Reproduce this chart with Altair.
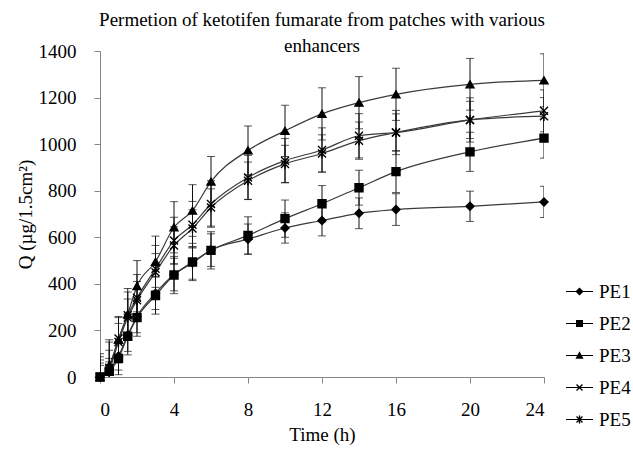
import altair as alt
import pandas as pd

times = [0, 0.5, 1, 1.5, 2, 3, 4, 5, 6, 8, 10, 12, 14, 16, 20, 24]
series_names = ["PE1", "PE2", "PE3", "PE4", "PE5"]

pe1 = [0, 30, 90, 180, 260, 360, 440, 490, 545, 592, 640, 672, 703, 719, 733, 752]
pe1_err = [60, 50, 60, 70, 70, 70, 70, 70, 70, 65, 65, 66, 66, 68, 65, 67]
pe2 = [0, 25, 80, 175, 255, 350, 438, 494, 544, 608, 680, 744, 813, 882, 967, 1026]
pe2_err = [50, 40, 70, 80, 80, 80, 80, 80, 80, 80, 80, 78, 75, 90, 84, 86]
pe3 = [0, 50, 160, 270, 390, 495, 643, 715, 839, 973, 1057, 1130, 1178, 1214, 1257, 1274]
pe3_err = [100, 110, 100, 110, 110, 110, 110, 111, 108, 105, 110, 112, 112, 112, 111, 114]
pe4 = [0, 40, 165, 265, 340, 465, 586, 654, 743, 857, 929, 975, 1036, 1050, 1104, 1143]
pe4_err = [87, 110, 90, 100, 100, 100, 100, 100, 100, 95, 95, 95, 95, 95, 95, 90]
pe5 = [0, 35, 150, 255, 330, 450, 565, 638, 728, 843, 915, 960, 1015, 1050, 1104, 1120]
pe5_err = [73, 80, 80, 80, 80, 80, 80, 80, 80, 80, 80, 80, 80, 80, 80, 80]

x_ticks = [0, 4, 8, 12, 16, 20, 24]
y_ticks = [0, 200, 400, 600, 800, 1000, 1200, 1400]

rows = []
for name, vals, errs in zip(series_names, [pe1, pe2, pe3, pe4, pe5],
                            [pe1_err, pe2_err, pe3_err, pe4_err, pe5_err]):
    for t, v, e in zip(times, vals, errs):
        rows.append({"t": t, "series": name, "q": v, "lo": v - e, "hi": v + e})
df = pd.DataFrame(rows)

FONT = "Liberation Serif"
AX = "#868686"

# plot markers
plot_shapes = [
    "diamond",
    "square",
    "triangle-up",
    "M-1,-1L1,1M-1,1L1,-1",
    "M-1,-1L1,1M-1,1L1,-1M0,-1.2L0,1.2",
]

# legend symbols (all filled outlines): line segment + marker
LINE = "M-1,-0.045H1V0.045H-1Z"
A, D = 0.22, 0.035
DIAG1 = f"M{-A+D},{-A-D}L{A+D},{A-D}L{A-D},{A+D}L{-A-D},{-A+D}Z"
DIAG2 = f"M{-A-D},{A-D}L{A-D},{-A-D}L{A+D},{-A+D}L{-A+D},{A+D}Z"
VERT = "M-0.05,-0.3H0.05V0.3H-0.05Z"
legend_shapes = [
    LINE + "M0,-0.3L0.3,0L0,0.3L-0.3,0Z",
    LINE + "M-0.26,-0.26H0.26V0.26H-0.26Z",
    LINE + "M0,-0.32L0.3,0.24H-0.3Z",
    LINE + DIAG1 + DIAG2,
    LINE + DIAG1 + DIAG2 + VERT,
]

x = alt.X("t:Q", scale=alt.Scale(domain=[0, 24], nice=False),
          axis=alt.Axis(values=x_ticks, title="Time (h)", titlePadding=6, labelPadding=17))
y = alt.Y("q:Q", scale=alt.Scale(domain=[0, 1400], nice=False),
          axis=alt.Axis(values=y_ticks, title="Q (µg/1.5cm²)", titlePadding=3, format="d",
                        labelPadding=18))

base = alt.Chart(df)

lines = base.mark_line(interpolate="monotone", color="#3a3a3a", strokeWidth=1.2).encode(
    x=x, y=y, detail="series:N")

rules = base.mark_rule(color="#111111", strokeWidth=1, clip=True).encode(
    x="t:Q", y="lo:Q", y2="hi:Q")
caps_hi = base.mark_tick(orient="horizontal", size=8, thickness=1, color="#111111", clip=True).encode(
    x="t:Q", y="hi:Q")
caps_lo = base.mark_tick(orient="horizontal", size=8, thickness=1, color="#111111", clip=True).encode(
    x="t:Q", y="lo:Q")

points = base.mark_point(filled=True, fill="black", stroke="black", strokeWidth=1.4,
                         opacity=1, size=64).encode(
    x=x, y=y,
    shape=alt.Shape("series:N", scale=alt.Scale(domain=series_names, range=plot_shapes),
                    legend=None))

legend_layer = base.mark_point(filled=True, color="black", opacity=0).encode(
    x=x, y=y,
    shape=alt.Shape("series:N", scale=alt.Scale(domain=series_names, range=legend_shapes),
                    legend=alt.Legend(title=None, orient="none", legendX=465, legendY=226,
                                      symbolSize=729, symbolOpacity=1,
                                      symbolFillColor="black",
                                      labelFont=FONT, labelFontSize=19,
                                      labelColor="black", labelOffset=5, rowPadding=7,
                                      padding=0)))

chart = alt.layer(lines, rules, caps_hi, caps_lo, points, legend_layer).resolve_scale(
    shape="independent"
).properties(
    width=444, height=326,
    background="white",
    title=alt.Title(["Permetion of ketotifen fumarate from patches with various", "enhancers"],
                    font=FONT, fontSize=19, fontWeight="normal", color="black",
                    lineHeight=26, offset=-14),
    padding={"left": 100, "top": 51, "right": 89, "bottom": 73},
    autosize=alt.AutoSizeParams(type="none"),
).configure_view(stroke=None).configure_axis(
    grid=False, domainColor=AX, tickColor=AX, tickSize=6, labelFont=FONT, labelFontSize=19,
    labelColor="black", titleFont=FONT, titleFontSize=19, titleFontWeight="normal",
    titleColor="black"
)

chart.save("out.html", embed_options={"renderer": "svg", "actions": False})
